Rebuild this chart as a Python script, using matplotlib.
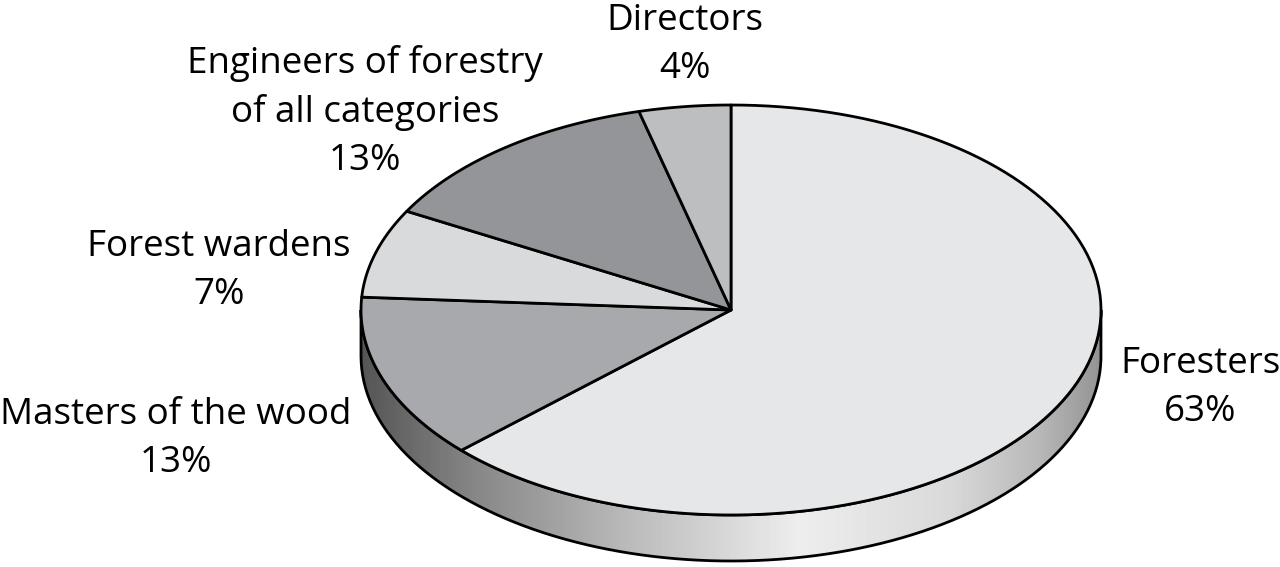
import matplotlib.pyplot as plt
import numpy as np
from matplotlib.path import Path
from matplotlib.patches import PathPatch, Polygon

labels = ['Foresters', 'Masters of the wood', 'Forest wardens',
          'Engineers of forestry\nof all categories', 'Directors']
shares = [63, 13, 7, 13, 4]
colors = ['#e6e7e8', '#a8a9ac', '#d9dadb', '#939598', '#bcbec0']

# label positions (pixels)
label_xy = [(1200, 388), (176, 439), (219, 271), (365, 112), (685, 45)]

cx, cy = 731, 310
a, b = 370, 205
depth = 46

fig = plt.figure(figsize=(12.8, 5.67), dpi=100)
ax = fig.add_axes([0, 0, 1, 1])
ax.set_xlim(0, 1280)
ax.set_ylim(567, 0)
ax.axis('off')


def pt(theta, dy=0):
    t = np.radians(theta)
    return cx + a * np.cos(t), cy - b * np.sin(t) + dy


# side of the cake (front half)
th = np.linspace(180, 360, 200)
top = np.array([pt(t) for t in th])
bot = np.array([pt(t, depth) for t in th[::-1]])
side = np.vstack([top, bot])
patch = PathPatch(Path(np.vstack([side, side[:1]])), facecolor='none',
                  edgecolor='black', lw=2, zorder=3)
ax.add_patch(patch)
xs = np.linspace(0, 1280, 640)
gx = [360, 470, 620, 800, 950, 1040, 1100]
gv = [0.33, 0.52, 0.72, 0.93, 0.85, 0.72, 0.58]
shade = np.interp(xs, gx, gv)
img = ax.imshow(np.tile(shade, (2, 1)), cmap='gray', vmin=0, vmax=1,
                extent=[0, 1280, 567, 0], aspect='auto', zorder=1)
img.set_clip_path(patch)

# top slices, clockwise from 12 o'clock
start = 90.0
for share, col in zip(shares, colors):
    end = start - share * 3.6
    arc = [pt(t) for t in np.linspace(start, end, 120)]
    poly = Polygon([(cx, cy)] + arc, closed=True, facecolor=col,
                   edgecolor='black', lw=2, joinstyle='round', zorder=4)
    ax.add_patch(poly)
    start = end

for lab, share, (x, y) in zip(labels, shares, label_xy):
    ax.text(x, y, f'{lab}\n{share}%', ha='center', va='center',
            fontsize=26.5, family='Open Sans', linespacing=1.42)

fig.savefig('out.png', dpi=100)
